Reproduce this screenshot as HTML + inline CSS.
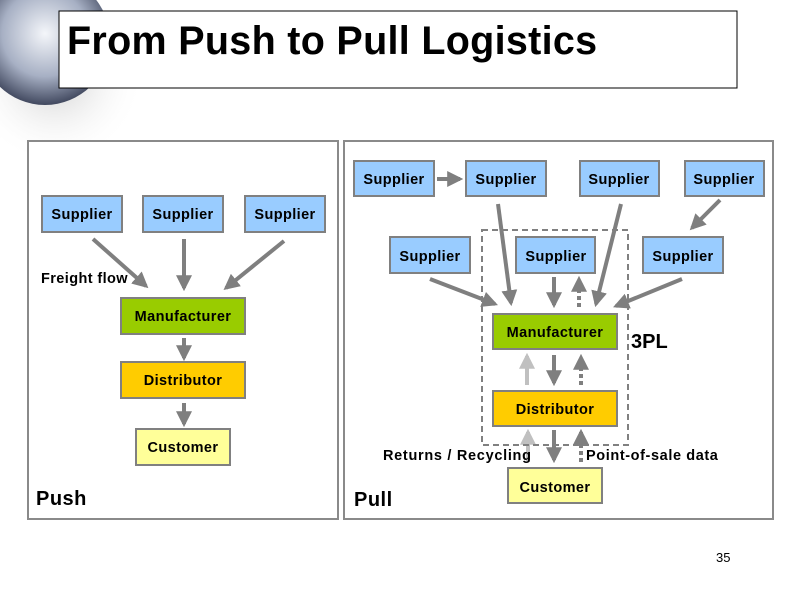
<!DOCTYPE html>
<html><head><style>
body{margin:0;background:#fff;}
svg text{font-family:"Liberation Sans",sans-serif;}
</style></head><body>
<svg width="799" height="598" xmlns="http://www.w3.org/2000/svg">
<defs>
<radialGradient id="g" cx="0.5" cy="0.45" r="0.6">
<stop offset="0" stop-color="#f4f6fa"/><stop offset="0.55" stop-color="#a7b0c4"/><stop offset="1" stop-color="#2a3148"/>
</radialGradient>
<radialGradient id="sh" cx="0.5" cy="0.5" r="0.5">
<stop offset="0" stop-color="#ccc"/><stop offset="1" stop-color="#fff" stop-opacity="0"/>
</radialGradient>
<marker id="a" viewBox="0 0 10 10" refX="8" refY="5" markerWidth="4" markerHeight="4" orient="auto"><path d="M0,0L10,5L0,10z" fill="#7f7f7f"/></marker>
<marker id="b" viewBox="0 0 10 10" refX="8" refY="5" markerWidth="4" markerHeight="4" orient="auto"><path d="M0,0L10,5L0,10z" fill="#c0c0c0"/></marker>
</defs>
<rect width="799" height="598" fill="#fff"/>
<circle cx="55" cy="75" r="90" fill="url(#sh)"/>
<circle cx="45" cy="40" r="65" fill="url(#g)"/>
<rect x="59" y="11" width="678" height="77" fill="#fff" stroke="#000" stroke-width="1"/>
<text x="67" y="54" font-size="39.5" font-weight="bold" letter-spacing="0.3">From Push to Pull Logistics</text>
<rect x="28" y="141" width="310" height="378" fill="#fff" stroke="#8a8a8a" stroke-width="2"/>
<rect x="344" y="141" width="429" height="378" fill="#fff" stroke="#8a8a8a" stroke-width="2"/>
<g stroke="#7f7f7f" stroke-width="4" fill="none" marker-end="url(#a)">
<line x1="93" y1="239" x2="146" y2="286"/>
<line x1="184" y1="239" x2="184" y2="288"/>
<line x1="284" y1="241" x2="226" y2="288"/>
<line x1="184" y1="338" x2="184" y2="358"/>
<line x1="184" y1="403" x2="184" y2="424"/>
<line x1="437" y1="179" x2="460" y2="179"/>
<line x1="498" y1="204" x2="511" y2="303"/>
<line x1="621" y1="204" x2="596" y2="304"/>
<line x1="720" y1="200" x2="692" y2="228"/>
<line x1="430" y1="279" x2="495" y2="304"/>
<line x1="682" y1="279" x2="616" y2="306"/>
<line x1="554" y1="277" x2="554" y2="305"/>
<line x1="554" y1="355" x2="554" y2="383"/>
<line x1="554" y1="430" x2="554" y2="460"/>
</g>
<g stroke="#7f7f7f" stroke-width="4" fill="none" stroke-dasharray="4,3" marker-end="url(#a)">
<line x1="579" y1="307" x2="579" y2="279"/>
<line x1="581" y1="385" x2="581" y2="357"/>
<line x1="581" y1="462" x2="581" y2="432"/>
</g>
<g stroke="#c0c0c0" stroke-width="4" fill="none" marker-end="url(#b)">
<line x1="527" y1="385" x2="527" y2="356"/>
<line x1="528" y1="462" x2="528" y2="432"/>
</g>
<rect x="482" y="230" width="146" height="215" fill="none" stroke="#808080" stroke-width="2" stroke-dasharray="6,4"/>
<g stroke="#808080" stroke-width="2">
<rect x="42" y="196" width="80" height="36" fill="#99ccff"/>
<rect x="143" y="196" width="80" height="36" fill="#99ccff"/>
<rect x="245" y="196" width="80" height="36" fill="#99ccff"/>
<rect x="354" y="161" width="80" height="35" fill="#99ccff"/>
<rect x="466" y="161" width="80" height="35" fill="#99ccff"/>
<rect x="580" y="161" width="79" height="35" fill="#99ccff"/>
<rect x="685" y="161" width="79" height="35" fill="#99ccff"/>
<rect x="390" y="237" width="80" height="36" fill="#99ccff"/>
<rect x="516" y="237" width="79" height="36" fill="#99ccff"/>
<rect x="643" y="237" width="80" height="36" fill="#99ccff"/>
<rect x="121" y="298" width="124" height="36" fill="#99cc00"/>
<rect x="121" y="362" width="124" height="36" fill="#ffcc00"/>
<rect x="136" y="429" width="94" height="36" fill="#ffff99"/>
<rect x="493" y="314" width="124" height="35" fill="#99cc00"/>
<rect x="493" y="391" width="124" height="35" fill="#ffcc00"/>
<rect x="508" y="468" width="94" height="35" fill="#ffff99"/>
</g>
<g font-size="14.5" font-weight="bold" text-anchor="middle" fill="#000" letter-spacing="0.4">
<text x="82" y="219">Supplier</text>
<text x="183" y="219">Supplier</text>
<text x="285" y="219">Supplier</text>
<text x="394" y="184">Supplier</text>
<text x="506" y="184">Supplier</text>
<text x="619" y="184">Supplier</text>
<text x="724" y="184">Supplier</text>
<text x="430" y="261">Supplier</text>
<text x="556" y="261">Supplier</text>
<text x="683" y="261">Supplier</text>
<text x="183" y="321">Manufacturer</text>
<text x="183" y="385">Distributor</text>
<text x="183" y="452">Customer</text>
<text x="555" y="337">Manufacturer</text>
<text x="555" y="414">Distributor</text>
<text x="555" y="492">Customer</text>
</g>
<text x="41" y="283" font-size="14.5" font-weight="bold" letter-spacing="0.4">Freight flow</text>
<text x="36" y="505" font-size="20" font-weight="bold" letter-spacing="0.5">Push</text>
<text x="354" y="506" font-size="20" font-weight="bold" letter-spacing="0.5">Pull</text>
<text x="631" y="348" font-size="20" font-weight="bold">3PL</text>
<text x="383" y="460" font-size="14.5" font-weight="bold" letter-spacing="0.7">Returns / Recycling</text>
<text x="586" y="460" font-size="14.5" font-weight="bold" letter-spacing="0.6">Point-of-sale data</text>
<text x="716" y="562" font-size="13">35</text>
</svg>
</body></html>
